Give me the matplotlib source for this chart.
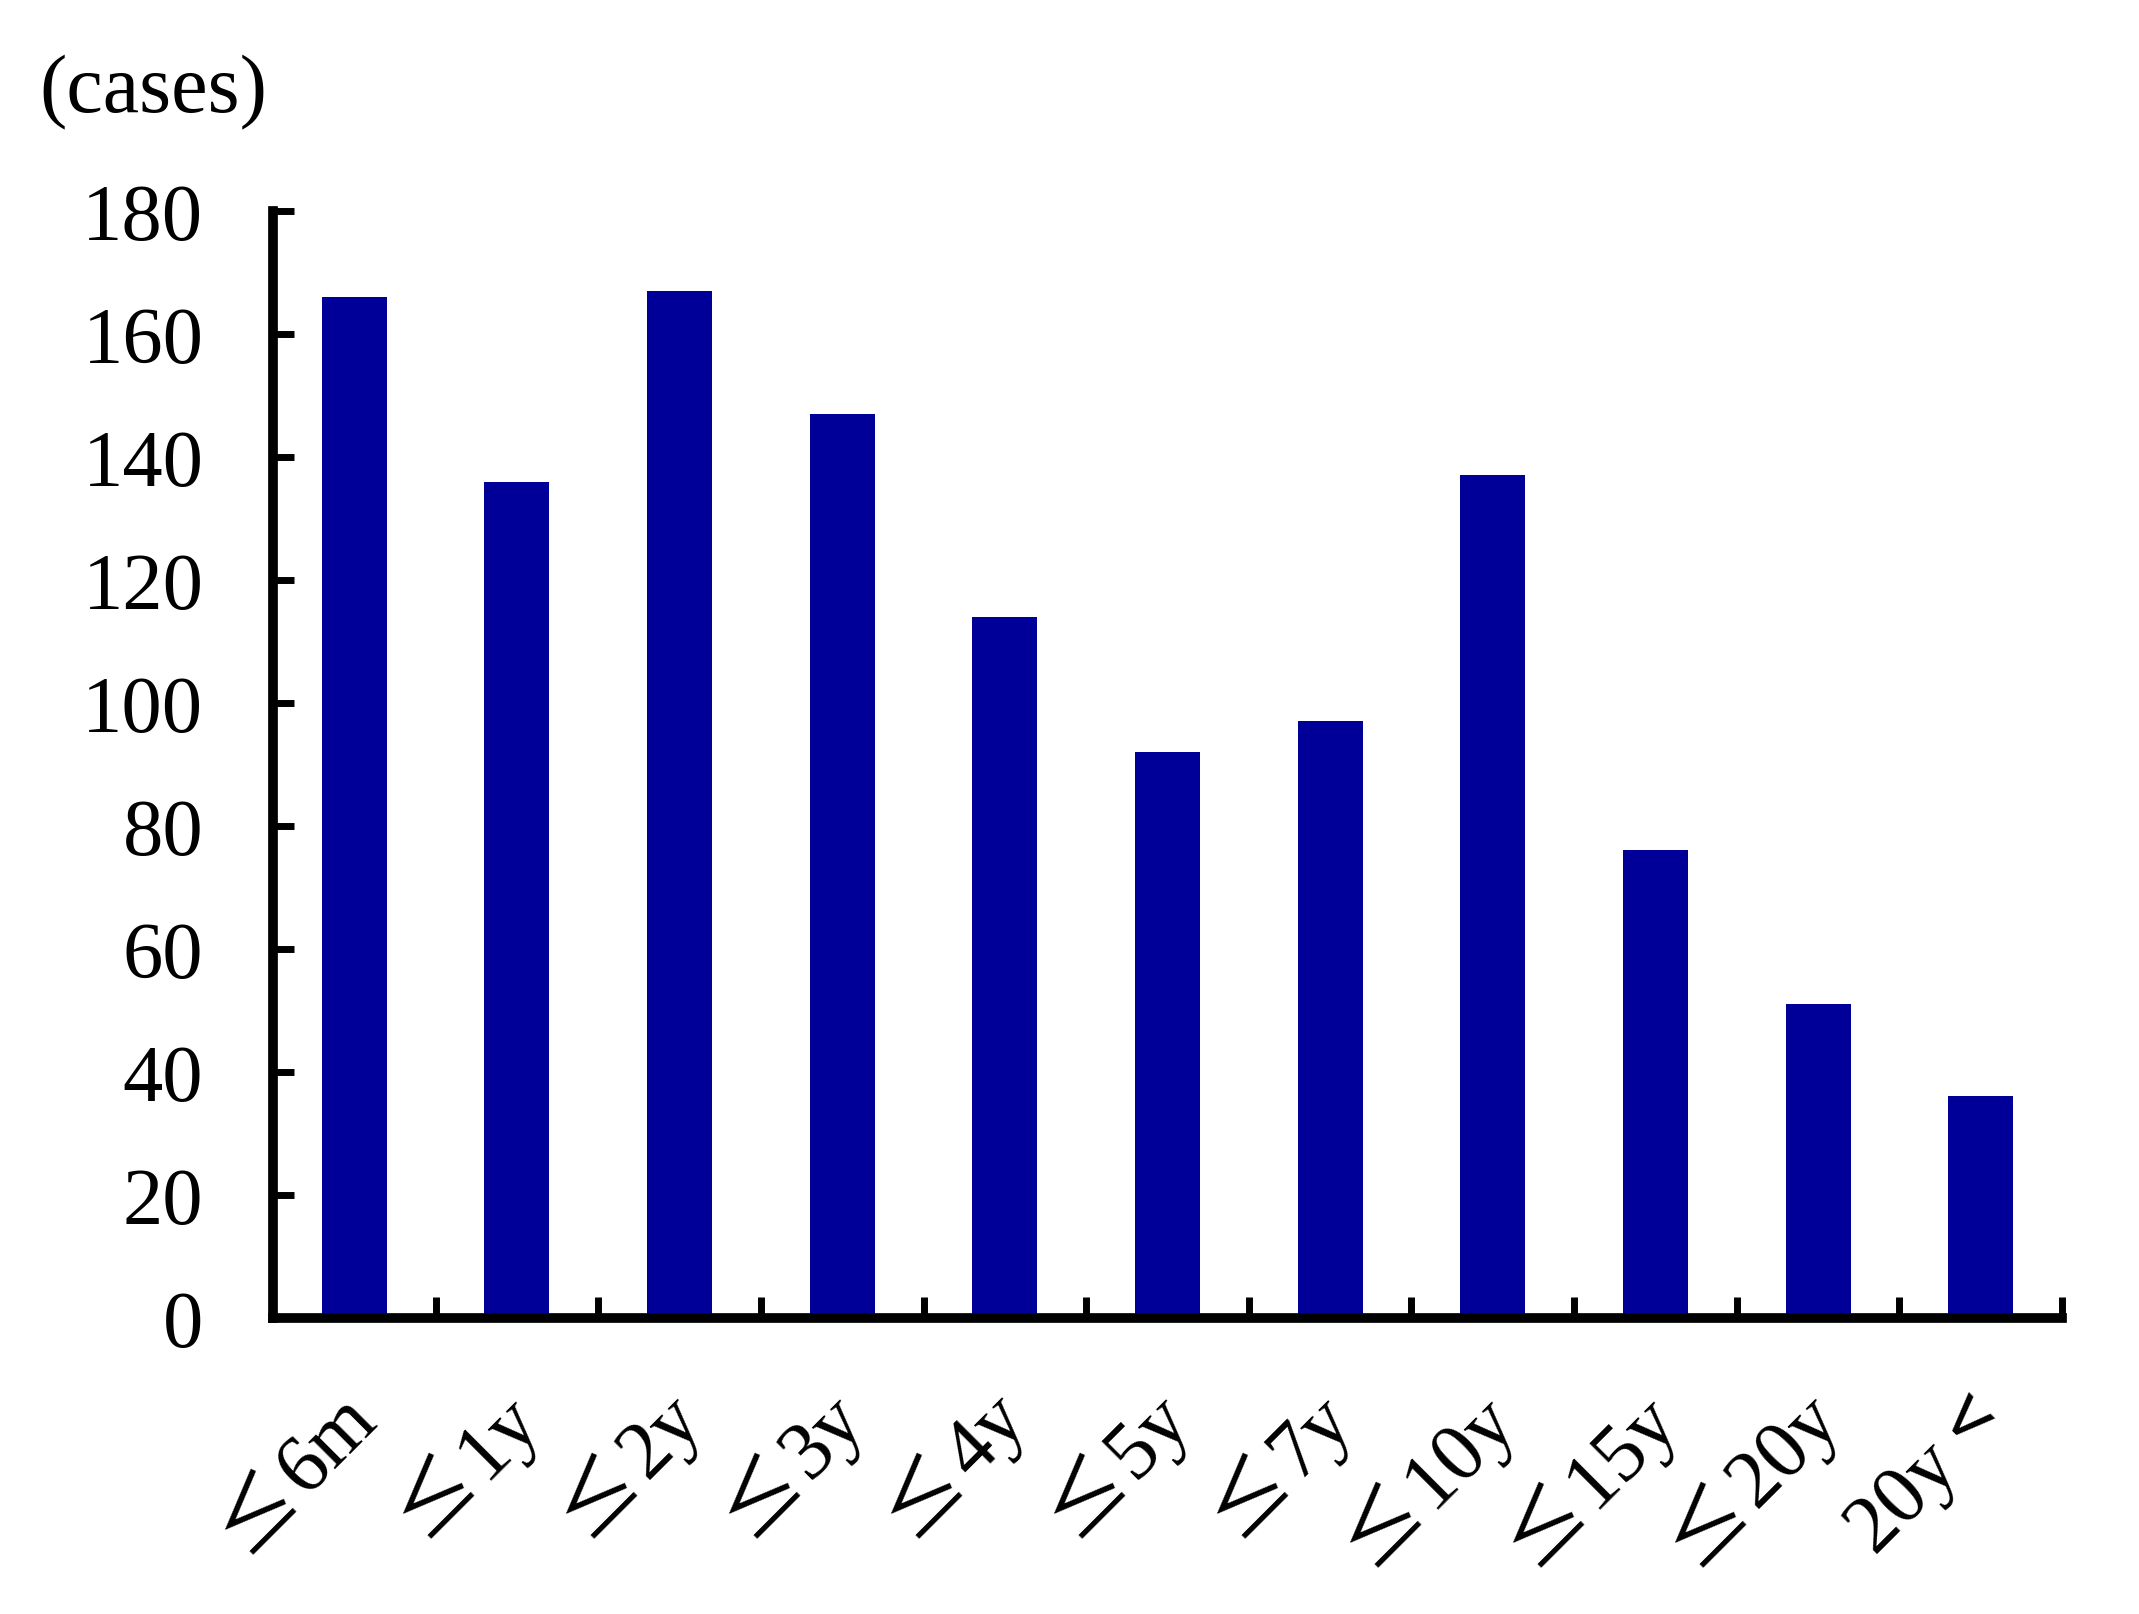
import matplotlib
matplotlib.use("Agg")
import matplotlib.pyplot as plt
import matplotlib.transforms as mtransforms
import numpy as np

categories = ["≤6m", "≤1y", "≤2y", "≤3y", "≤4y", "≤5y", "≤7y", "≤10y", "≤15y", "≤20y", "20y<"]
cases = [166, 136, 167, 147, 114, 92, 97, 137, 76, 51, 36]
yticks = [0, 20, 40, 60, 80, 100, 120, 140, 160, 180]

plt.rcParams['font.family'] = ['Liberation Serif', 'DejaVu Serif']

DPI = 100
fig = plt.figure(figsize=(21.39, 16.15), dpi=DPI)
ax = fig.add_axes([0.1276, 0.1835, 0.964 - 0.1276, 0.8687 - 0.1835])

x = np.arange(len(categories))
ax.bar(x, cases, width=0.40, color='#000099', zorder=2)

ax.set_xlim(-0.5, len(categories) - 0.5)
ax.set_ylim(0, 180)

for s in ['top', 'right']:
    ax.spines[s].set_visible(False)
for s in ['left', 'bottom']:
    ax.spines[s].set_linewidth(7)
    ax.spines[s].set_capstyle('projecting')

ax.set_yticks(yticks)
ax.set_yticklabels([str(v) for v in yticks], fontsize=58)
ax.tick_params(axis='y', direction='in', length=15, width=5, pad=50)

ax.set_xticks(x)
ax.set_xticklabels([''] * len(categories))
ax.set_xticks(np.arange(len(categories)) + 0.5, minor=True)
ax.tick_params(axis='x', which='major', length=0)
ax.tick_params(axis='x', which='minor', direction='in', length=15, width=5)

# Category labels: symbol part in a full-width CJK face, rest in serif
FS = 59
SYM_FONT = ['Noto Sans CJK JP', 'DejaVu Sans']
renderer = fig.canvas.get_renderer()
c = s_ = np.sqrt(0.5)
base = ax.transData.transform([(xi, 0) for xi in x])
for i, lab in enumerate(categories):
    if lab[0] in '≤<':
        sym, rest, sym_first = lab[0], lab[1:], True
        gap = 4
    else:
        sym, rest, sym_first = lab[-1], lab[:-1], False
        gap = 18
    # anchor: right end of baseline (display pixels, y up)
    ax_px, ay_px = base[i][0] + 25, base[i][1] - 104
    tmp_r = fig.text(0, 0, rest, fontsize=FS)
    w_rest = tmp_r.get_window_extent(renderer).width
    tmp_r.remove()
    tmp_s = fig.text(0, 0, sym, fontsize=FS, family=SYM_FONT)
    w_sym = tmp_s.get_window_extent(renderer).width
    tmp_s.remove()
    kw = dict(rotation=45, rotation_mode='anchor', ha='right', va='baseline',
              transform=mtransforms.IdentityTransform())
    if sym_first:
        d = w_rest + gap
        fig.text(ax_px, ay_px, rest, fontsize=FS, **kw)
        fig.text(ax_px - d * c, ay_px - d * s_, sym, fontsize=FS,
                 family=SYM_FONT, **kw)
    else:
        d = w_sym + gap
        fig.text(ax_px, ay_px, sym, fontsize=FS, family=SYM_FONT, **kw)
        fig.text(ax_px - d * c, ay_px - d * s_, rest, fontsize=FS, **kw)

fig.text(39 / 2139, 1 - 55 / 1615, "(cases)", fontsize=59, ha='left', va='top')

fig.savefig("out.png", dpi=DPI)
